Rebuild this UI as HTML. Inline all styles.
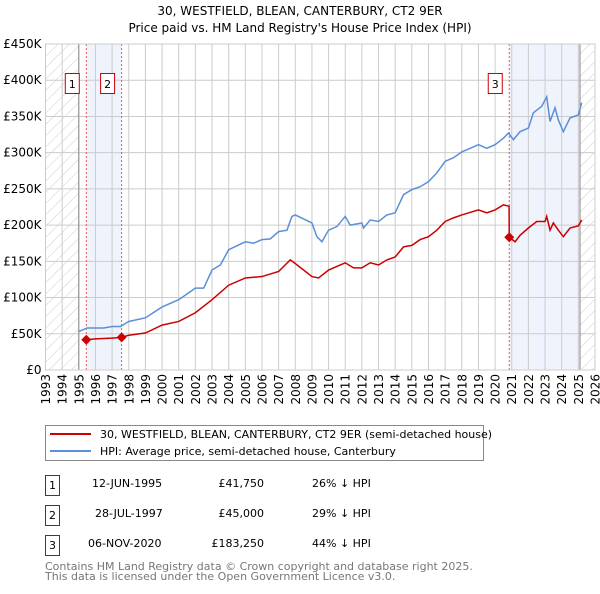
<!DOCTYPE html>
<html><head><meta charset="utf-8"><style>
body{margin:0;background:#fff;font-family:"DejaVu Sans","Liberation Sans",sans-serif;}
svg text{font-family:"DejaVu Sans","Liberation Sans",sans-serif;}
</style></head><body>
<svg id="c" width="600" height="590" xmlns="http://www.w3.org/2000/svg">
<defs><pattern id="h" width="8" height="8" patternUnits="userSpaceOnUse" patternTransform="rotate(45)"><line x1="0" y1="0" x2="0" y2="8" stroke="#ccc" stroke-width="1"/></pattern></defs>
<text x="300" y="15" text-anchor="middle" font-size="12">30, WESTFIELD, BLEAN, CANTERBURY, CT2 9ER</text>
<text x="300" y="32" text-anchor="middle" font-size="12">Price paid vs. HM Land Registry's House Price Index (HPI)</text>
<g id="plot"></g>
<g>
<rect x="45.5" y="425.5" width="438" height="35" fill="#fff" stroke="#888"/>
<line x1="50" y1="434" x2="91" y2="434" stroke="#cc0000" stroke-width="2"/>
<text x="100" y="438" font-size="11">30, WESTFIELD, BLEAN, CANTERBURY, CT2 9ER (semi-detached house)</text>
<line x1="50" y1="451" x2="91" y2="451" stroke="#5b8fd6" stroke-width="2"/>
<text x="100" y="455" font-size="11">HPI: Average price, semi-detached house, Canterbury</text>
</g>
<g font-size="11">
<rect x="45.5" y="475.5" width="14" height="20" fill="#fff" stroke="#cc0000"/><text x="52.5" y="489" text-anchor="middle">1</text>
<text x="92" y="487">12-JUN-1995</text><text x="264" y="487" text-anchor="end">£41,750</text><text x="312" y="487">26% ↓ HPI</text>
<rect x="45.5" y="505.5" width="14" height="20" fill="#fff" stroke="#cc0000"/><text x="52.5" y="519" text-anchor="middle">2</text>
<text x="95" y="517">28-JUL-1997</text><text x="264" y="517" text-anchor="end">£45,000</text><text x="312" y="517">29% ↓ HPI</text>
<rect x="45.5" y="535.5" width="14" height="20" fill="#fff" stroke="#cc0000"/><text x="52.5" y="549" text-anchor="middle">3</text>
<text x="88" y="547">06-NOV-2020</text><text x="264" y="547" text-anchor="end">£183,250</text><text x="312" y="547">44% ↓ HPI</text>
</g>
<text x="45" y="570" font-size="11" fill="#777">Contains HM Land Registry data © Crown copyright and database right 2025.</text>
<text x="45" y="580" font-size="11" fill="#777">This data is licensed under the Open Government Licence v3.0.</text>
</svg>
<script>
const yTicks=[0,50,100,150,200,250,300,350,400,450];
const yTickLabels=["£0","£50K","£100K","£150K","£200K","£250K","£300K","£350K","£400K","£450K"];
const xYears=[1993,1994,1995,1996,1997,1998,1999,2000,2001,2002,2003,2004,2005,2006,2007,2008,2009,2010,2011,2012,2013,2014,2015,2016,2017,2018,2019,2020,2021,2022,2023,2024,2025,2026];
const hpiDates=[1995,1995.5,1996.5,1997,1997.5,1998,1999,2000,2001,2002,2002.5,2003,2003.5,2004,2005,2005.5,2006,2006.5,2007,2007.5,2007.8,2008,2009,2009.3,2009.6,2010,2010.5,2011,2011.3,2012,2012.1,2012.5,2013,2013.5,2014,2014.5,2015,2015.5,2016,2016.5,2017,2017.5,2018,2018.5,2019,2019.5,2020,2020.5,2020.8,2021.1,2021.5,2022,2022.3,2022.8,2023.1,2023.3,2023.6,2023.8,2024.1,2024.5,2025,2025.2];
const hpiValues=[53,58,58,60,60,67,72,87,97,113,113,138,145,166,177,175,180,181,191,193,212,214,203,184,177,193,198,212,200,203,196,207,205,214,217,242,249,253,260,272,288,293,301,306,311,306,311,320,327,318,329,334,355,364,377,343,362,345,329,348,352,369];
const ppDates=[1995.45,1996,1997,1997.57,1998,1999,2000,2001,2002,2003,2004,2005,2006,2007,2007.7,2008,2009,2009.4,2010,2011,2011.5,2012,2012.5,2013,2013.5,2014,2014.5,2015,2015.5,2016,2016.5,2017,2017.5,2018,2019,2019.5,2020,2020.5,2020.84,2020.85,2021.2,2021.5,2022,2022.5,2023,2023.1,2023.3,2023.5,2023.8,2024.1,2024.5,2025,2025.2];
const ppValues=[41.75,43,44,45,48,51,62,67,79,97,117,127,129,136,152,147,129,127,138,148,141,141,148,145,152,156,170,172,180,184,193,205,210,214,221,217,221,228,226,183.25,177,186,196,205,205,212,193,203,193,184,196,199,207];
const saleDates=[1995.45,1997.57,2020.85];
const saleValues=[41.75,45,183.25];
const saleLabels=["1","2","3"];

const L=45.5,R=595,T=44,B=370;
const x=y=>L+(y-1993)*(R-L)/33;
const yv=v=>B-v*(B-T)/450;
const NS="http://www.w3.org/2000/svg";
const g=document.getElementById('plot');
function mk(t,a){const e=document.createElementNS(NS,t);for(const k in a)e.setAttribute(k,a[k]);g.appendChild(e);return e;}
let e;
e=mk('rect',{x:L,y:T,width:x(1995)-L,height:B-T,fill:'url(#h)'});


e=mk('rect',{x:x(2025.1),y:T,width:R-x(2025.1),height:B-T,fill:'url(#h)'});


e=mk('rect',{x:x(saleDates[0]),y:T,width:x(saleDates[1])-x(saleDates[0]),height:B-T,fill:'#eef3fc'});


e=mk('rect',{x:x(saleDates[2]),y:T,width:x(2025.1)-x(saleDates[2]),height:B-T,fill:'#eef3fc'});


xYears.forEach(yr=>{
 e=mk('line',{x1:x(yr),x2:x(yr),y1:T,y2:B,stroke:'#ccc'});
 
 
 e=mk('text',{x:0,y:0,'font-size':12,'text-anchor':'end',transform:`translate(${x(yr)+4.5},${B+4}) rotate(-90)`});
 e.textContent=yr;
 
 
});
yTicks.forEach((v,i)=>{
 e=mk('line',{x1:L,x2:R,y1:yv(v),y2:yv(v),stroke:'#ccc'});
 
 
 e=mk('text',{x:L-4,y:yv(v)+4,'font-size':12,'text-anchor':'end'});
 e.textContent=yTickLabels[i];
 
 
});
e=mk('line',{x1:x(1995),x2:x(1995),y1:T,y2:B,stroke:'#888'});


e=mk('line',{x1:x(2025.1),x2:x(2025.1),y1:T,y2:B,stroke:'#888'});


saleDates.forEach((d,i)=>{
 e=mk('line',{x1:x(d),x2:x(d),y1:T,y2:B,stroke:'#e55','stroke-dasharray':'2,2'});
 
 
});
e=mk('polyline',{points:hpiDates.map((d,i)=>x(d)+','+yv(hpiValues[i])).join(' '),fill:'none',stroke:'#5b8fd6','stroke-width':1.5});


e=mk('polyline',{points:ppDates.map((d,i)=>x(d)+','+yv(ppValues[i])).join(' '),fill:'none',stroke:'#cc0000','stroke-width':1.5});


saleDates.forEach((d,i)=>{
 const cx=x(d),cy=yv(saleValues[i]);
 e=mk('path',{d:`M${cx-5},${cy}L${cx},${cy-5}L${cx+5},${cy}L${cx},${cy+5}Z`,fill:'#cc0000'});
 
 
 e=mk('rect',{x:cx-21,y:73.5,width:14,height:20,fill:'#fff',stroke:'#cc0000'});
 
 
 e=mk('text',{x:cx-14,y:88,'font-size':11,'text-anchor':'middle'});
 e.textContent=saleLabels[i];
 
 
});
e=mk('rect',{x:L,y:T,width:R-L,height:B-T,fill:'none',stroke:'#ccc'});


</script>
</body></html>
